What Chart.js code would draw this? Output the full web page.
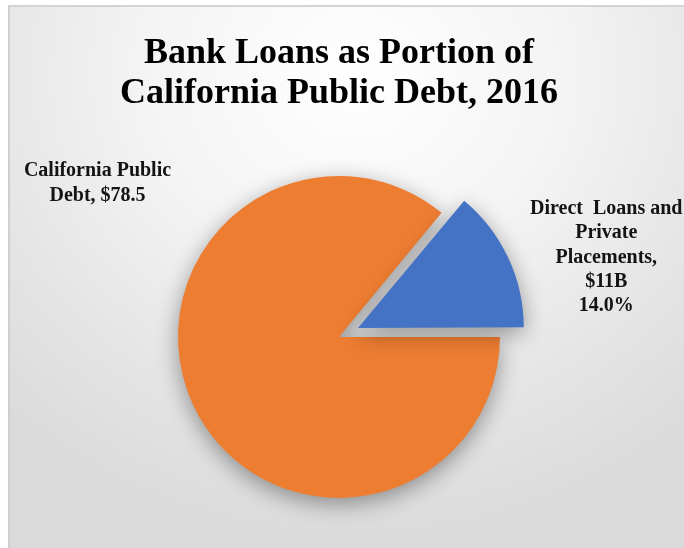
<!DOCTYPE html>
<html>
<head>
<meta charset="utf-8">
<script src="https://cdn.jsdelivr.net/npm/chart.js@4.4.1/dist/chart.umd.min.js"></script>
<style>
  html, body { margin: 0; padding: 0; background: #fff; }
  #wrap { position: relative; width: 684px; height: 548px; overflow: hidden; }
  #frame {
    position: absolute; left: 8px; top: 5px; width: 690px; height: 560px;
    border-left: 2px solid #cfcfcf; border-top: 2px solid #d4d4d4;
    background: radial-gradient(ellipse 75% 85% at 50% 12%, #ffffff 0%, #f4f4f4 40%, #e4e4e4 75%, #dadada 100%);
  }
  #chart { position: absolute; left: 0; top: 0; }
</style>
</head>
<body>
<div id="wrap">
  <div id="frame"></div>
  <canvas id="chart" width="684" height="548"></canvas>
</div>
<script>
// Figures in $ billions
const sliceNames = ['California Public Debt', 'Direct Loans and Private Placements'];
const amounts = [78.5, 11];
const sliceColors = ['#ED7D31', '#4472C4'];
const titleLines = ['Bank Loans as Portion of', 'California Public Debt, 2016'];

const totalDebt = amounts[0];
const loans = amounts[1];
const loanShare = (loans / totalDebt * 100).toFixed(1) + '%';

// bank loans are carved out of the total, the rest stays orange
const sliceValues = [totalDebt - loans, loans];

const labelLines = [
    ['California Public', 'Debt, $' + totalDebt],
    ['Direct  Loans and', 'Private', 'Placements,', '$' + loans + 'B', loanShare]
];

// soft drop shadow under the pie
const shadowPlugin = {
    id: 'pieShadow',
    beforeDatasetsDraw(chart) {
        const ctx = chart.ctx;
        ctx.save();
        ctx.shadowColor = 'rgba(0, 0, 0, 0.38)';
        ctx.shadowBlur = 22;
        ctx.shadowOffsetX = 0;
        ctx.shadowOffsetY = 6;
    },
    afterDatasetsDraw(chart) {
        chart.ctx.restore();
    }
};

// labels placed beside each slice, relative to pie centre and radius
const sliceLabelPlugin = {
    id: 'sliceLabels',
    afterDraw(chart) {
        const ctx = chart.ctx;
        const arcs = chart.getDatasetMeta(0).data;
        const cx = arcs[0].x, cy = arcs[0].y, r = arcs[0].outerRadius;
        const anchors = [
            {x: cx - 1.5 * r, y: cy - 1.03 * r},
            {x: cx + 1.66 * r, y: cy - 0.795 * r}
        ];
        ctx.save();
        ctx.font = 'bold 20px "Liberation Serif", "Times New Roman", serif';
        ctx.fillStyle = '#141414';
        ctx.textAlign = 'center';
        ctx.textBaseline = 'middle';
        labelLines.forEach((lines, i) => {
            lines.forEach((t, j) => {
                ctx.fillText(t, anchors[i].x, anchors[i].y + j * 24.3);
            });
        });
        ctx.restore();
    }
};

const ctx = document.getElementById('chart').getContext('2d');

const chart = new Chart(ctx, {
    type: 'pie',
    data: {
        labels: sliceNames,
        datasets: [{
            data: sliceValues,
            backgroundColor: sliceColors,
            borderWidth: 0,
            offset: [0, 84], // arc element moves by offset / 4
            hoverOffset: 0
        }]
    },
    options: {
        responsive: false,
        animation: false,
        rotation: 90,
        radius: 161,
        layout: {
            padding: {left: 0, right: 6, top: 0, bottom: 0}
        },
        plugins: {
            legend: {display: false},
            tooltip: {enabled: false},
            title: {
                display: true,
                text: titleLines,
                color: '#000',
                font: {family: '"Liberation Serif", "Times New Roman", serif', size: 36, weight: 'bold', lineHeight: 1.11},
                padding: {top: 34, bottom: 12}
            }
        }
    },
    plugins: [shadowPlugin, sliceLabelPlugin]
});
</script>
</body>
</html>
